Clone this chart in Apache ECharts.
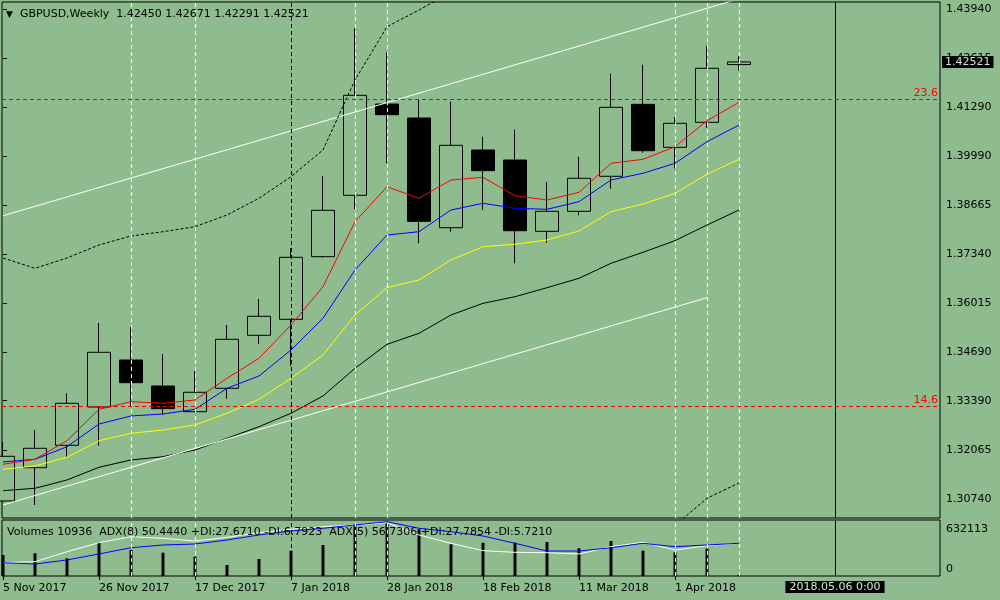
<!DOCTYPE html>
<html><head><meta charset="utf-8">
<script src="https://cdn.jsdelivr.net/npm/echarts@6/dist/echarts.min.js"></script>
<style>html,body{margin:0;padding:0;background:#8fbc8f}#c{width:1000px;height:600px}</style>
</head><body><div id="c"></div>
<script>
// ---- data ----
const symbolName = 'GBPUSD,Weekly';
const weeks = ['5 Nov 2017','12 Nov 2017','19 Nov 2017','26 Nov 2017','3 Dec 2017','10 Dec 2017','17 Dec 2017','24 Dec 2017','31 Dec 2017','7 Jan 2018','14 Jan 2018','21 Jan 2018','28 Jan 2018','4 Feb 2018','11 Feb 2018','18 Feb 2018','25 Feb 2018','4 Mar 2018','11 Mar 2018','18 Mar 2018','25 Mar 2018','1 Apr 2018','8 Apr 2018','15 Apr 2018','22 Apr 2018','29 Apr 2018','6 May 2018'];
const dateTickIdx = [0,3,6,9,12,15,18,21];
const cursorIdx = 26;
const cursorLabel = '2018.05.06 0:00';

const open  = [1.30687,1.31584,1.32188,1.33220,1.34487,1.33786,1.33094,1.33724,1.35153,1.35584,1.37272,1.38927,1.41387,1.41010,1.38053,1.40148,1.39878,1.37956,1.38495,1.39439,1.41379,1.40220,1.40894,1.42450];
const high  = [1.32277,1.32600,1.33590,1.35484,1.35377,1.34649,1.34191,1.35431,1.36131,1.37498,1.39447,1.43428,1.42781,1.41514,1.41449,1.40506,1.40695,1.39285,1.39967,1.42204,1.42447,1.41037,1.42959,1.42671];
const low   = [1.30650,1.30579,1.31881,1.32177,1.33228,1.33013,1.33080,1.33444,1.34918,1.34330,1.37250,1.38549,1.39789,1.37633,1.37945,1.38530,1.37094,1.37649,1.38387,1.39104,1.40075,1.39654,1.40749,1.42291];
const close = [1.31891,1.32107,1.33320,1.34695,1.33875,1.33175,1.33617,1.35045,1.35665,1.37255,1.38522,1.41622,1.41099,1.38226,1.40274,1.39590,1.37972,1.38495,1.39385,1.41298,1.40129,1.40867,1.42350,1.42521];

const maRed    = [1.31676,1.31811,1.32312,1.33158,1.33363,1.33320,1.33409,1.33994,1.34533,1.35431,1.36463,1.38215,1.39158,1.38846,1.39339,1.39412,1.38916,1.38800,1.39007,1.39789,1.39897,1.40236,1.40937,1.41433];
const maBlue   = [1.31738,1.31811,1.32150,1.32762,1.32978,1.33032,1.33158,1.33724,1.34056,1.34757,1.35611,1.36913,1.37856,1.37945,1.38530,1.38711,1.38576,1.38549,1.38754,1.39339,1.39520,1.39789,1.40371,1.40821];
const maYellow = [1.31541,1.31630,1.31865,1.32312,1.32512,1.32600,1.32735,1.33051,1.33428,1.33994,1.34622,1.35700,1.36436,1.36644,1.37183,1.37541,1.37606,1.37722,1.37964,1.38485,1.38692,1.38980,1.39493,1.39897];
const maBlack  = [1.30964,1.31029,1.31253,1.31595,1.31792,1.31881,1.32061,1.32377,1.32689,1.33051,1.33517,1.34264,1.34910,1.35207,1.35700,1.36015,1.36193,1.36436,1.36689,1.37094,1.37390,1.37703,1.38126,1.38530];

const channelUpper = [[0,1.38374],[23,1.44222]];
const channelLower = [[0,1.30579],[22,1.36167]];
const bandUpper = [[0,1.37237],[1,1.36959],[2,1.37237],[3,1.37587],[4,1.37830],[5,1.37945],[6,1.38080],[7,1.38396],[8,1.38846],[9,1.39428],[10,1.40148],[11,1.42034],[12,1.43471],[13,1.43921],[14,1.44400]];
const bandLower = [[21,1.30030],[22,1.30760],[23,1.31172]];

const fibLevels = [1.41509, 1.33234];
const fibLabels = ['23.6', '14.6'];
const whiteVLines = [4,6,11,12,21,22,23];
const blackDashVLines = [9];

const priceTicks = [1.30740,1.32065,1.33390,1.34690,1.36015,1.37340,1.38665,1.39990,1.41290,1.42615,1.43940];

const volumes = [248000,268000,209000,398000,307000,275000,228000,130000,201000,299000,366000,611000,632113,552000,375000,393000,393000,402000,327000,414000,299000,280000,323000,10936];
const volTicks = [0, 632113];
const adx8  = [23.8,25.5,43.4,59.5,70.2,67.3,62.5,69.1,77.3,83.4,88.0,91.1,95.2,73.2,58.4,45.2,42.3,41.6,39.3,52.3,60.2,46.4,54.1,58.4];
const adx5  = [23.8,21.4,28.6,39.3,50.5,55.4,57.1,64.3,73.2,80.4,85.2,91.1,97.0,85.2,79.1,71.4,58.4,44.6,44.6,50.5,58.4,52.3,55.4,58.4];
const adxInfo = ['ADX(8) 50.4440 +DI:27.6710 -DI:6.7923', 'ADX(5) 56.7306 +DI:27.7854 -DI:5.7210'];

// ---- chart ----
const BG = '#8fbc8f';
const FONT = 'DejaVu Sans';
const last = close.length - 1;
const xy = arr => arr.map((v, i) => [i, v]);
const candleData = open.map((o, i) => [i, o, close[i], low[i], high[i]]);
const xMin = -0.03125, xMax = 29.28125;

function vlines(list, color, type) {
  return list.map(v => ({ xAxis: v, lineStyle: { color: color, type: type, width: 1 } }));
}

const chart = echarts.init(document.getElementById('c'), null, { renderer: 'canvas' });
chart.setOption({
  backgroundColor: BG,
  animation: false,
  textStyle: { fontFamily: FONT },
  title: [
    {
      text: '{tri|▼}  ' + symbolName + '  ' + [open[last], high[last], low[last], close[last]].map(v => v.toFixed(5)).join(' '),
      left: 6, top: 9, padding: 0,
      textStyle: { fontSize: 11, fontWeight: 'normal', color: '#000', fontFamily: FONT,
        rich: { tri: { fontSize: 9, color: '#000', fontFamily: FONT } } }
    },
    {
      text: 'Volumes ' + volumes[last] + '  ' + adxInfo.join('  '),
      left: 7, top: 527, padding: 0,
      textStyle: { fontSize: 11, fontWeight: 'normal', color: '#000', fontFamily: FONT }
    }
  ],
  grid: [
    { left: 2, top: 2, width: 938, height: 516, show: true, borderColor: '#000', borderWidth: 1, backgroundColor: 'transparent', outerBoundsMode: 'none', containLabel: false },
    { left: 2, top: 520, width: 938, height: 56, show: true, borderColor: '#000', borderWidth: 1, backgroundColor: 'transparent', outerBoundsMode: 'none', containLabel: false }
  ],
  xAxis: [
    { type: 'value', gridIndex: 0, min: xMin, max: xMax, show: false },
    { type: 'value', gridIndex: 1, min: xMin, max: xMax,
      axisLine: { show: false }, splitLine: { show: false },
      axisTick: { show: true, customValues: dateTickIdx, length: 4, lineStyle: { color: '#000', width: 1 } },
      axisLabel: { customValues: dateTickIdx, formatter: v => weeks[v], align: 'left', margin: 7, color: '#000', fontSize: 11, fontFamily: FONT, hideOverlap: false }
    }
  ],
  yAxis: [
    { type: 'value', gridIndex: 0, position: 'right', min: 1.30228, max: 1.44137, scale: true,
      axisLine: { show: false }, splitLine: { show: false },
      axisTick: { show: true, customValues: priceTicks, length: 4, lineStyle: { color: '#000' } },
      axisLabel: { customValues: priceTicks, formatter: v => v.toFixed(5), margin: 6, color: '#000', fontSize: 11, fontFamily: FONT, hideOverlap: false }
    },
    { type: 'value', gridIndex: 1, position: 'right', min: 0, max: 661700,
      axisLine: { show: false }, splitLine: { show: false },
      axisTick: { show: false },
      axisLabel: { customValues: volTicks, margin: 6, color: '#000', fontSize: 11, fontFamily: FONT, hideOverlap: false,
        formatter: v => (v === 0 ? '{b|' + v + '}' : '{t|' + v + '}'),
        rich: { t: { padding: [13.6, 0, 0, 0], fontSize: 11, color: '#000', fontFamily: FONT },
                b: { padding: [0, 0, 14.6, 0], fontSize: 11, color: '#000', fontFamily: FONT } } }
    },
    { type: 'value', gridIndex: 1, min: 0, max: 100, show: false }
  ],
  series: [
    { type: 'line', xAxisIndex: 0, yAxisIndex: 0, data: [], z: 1, silent: true,
      markLine: { symbol: 'none', silent: true, animation: false, precision: 6, label: { show: false },
        data: vlines(whiteVLines, '#ffffff', [4, 3]).concat(vlines(blackDashVLines, '#000', [4, 3]), vlines([cursorIdx], '#000', 'solid')) } },
    { type: 'candlestick', xAxisIndex: 0, yAxisIndex: 0, data: candleData, encode: { x: 0, y: [1, 2, 3, 4] },
      barWidth: 23, z: 2, silent: true,
      itemStyle: { color: BG, color0: '#000', borderColor: '#000', borderColor0: '#000', borderWidth: 1 } },
    { type: 'line', data: xy(maBlack), showSymbol: false, symbol: 'none', z: 3, lineStyle: { color: '#000', width: 1 }, silent: true },
    { type: 'line', data: xy(maYellow), showSymbol: false, symbol: 'none', z: 3, lineStyle: { color: '#ffff00', width: 1 }, silent: true },
    { type: 'line', data: xy(maBlue), showSymbol: false, symbol: 'none', z: 3, lineStyle: { color: '#0000ff', width: 1 }, silent: true },
    { type: 'line', data: xy(maRed), showSymbol: false, symbol: 'none', z: 3, lineStyle: { color: '#ff0000', width: 1 }, silent: true },
    { type: 'line', data: channelUpper, showSymbol: false, symbol: 'none', z: 3, lineStyle: { color: '#ffffff', width: 1 }, silent: true },
    { type: 'line', data: channelLower, showSymbol: false, symbol: 'none', z: 3, lineStyle: { color: '#ffffff', width: 1 }, silent: true },
    { type: 'line', data: bandUpper, showSymbol: false, symbol: 'none', z: 3, lineStyle: { color: '#000', width: 1, type: [3, 2] }, silent: true },
    { type: 'line', data: bandLower, showSymbol: false, symbol: 'none', z: 3, lineStyle: { color: '#000', width: 1, type: [3, 2] }, silent: true },
    { type: 'line', xAxisIndex: 0, yAxisIndex: 0, data: [], z: 4, silent: true,
      markLine: { symbol: 'none', silent: true, animation: false, precision: 6,
        data: fibLevels.map((v, i) => ({ yAxis: v, lineStyle: { color: '#ff0000', type: [4, 3], width: 1 },
            label: { show: true, position: 'insideEndTop', distance: [2, 1], formatter: fibLabels[i], color: '#ff0000', fontSize: 11, fontFamily: FONT } }))
          .concat([{ yAxis: close[last], lineStyle: { color: 'rgba(0,0,0,0)', width: 0 },
            label: { show: true, position: 'end', distance: 2, formatter: close[last].toFixed(5), color: '#cfe0cf', backgroundColor: '#000', padding: [1, 3, 0, 3], fontSize: 11, fontFamily: FONT } }]) } },
    // lower panel
    { type: 'line', xAxisIndex: 1, yAxisIndex: 1, data: [], z: 1, silent: true,
      markLine: { symbol: 'none', silent: true, animation: false, precision: 6, label: { show: false },
        data: vlines(whiteVLines, '#ffffff', [4, 3]).concat(vlines(blackDashVLines, '#000', [4, 3]),
          [{ xAxis: cursorIdx, lineStyle: { color: '#000', type: 'solid', width: 1 },
             label: { show: true, position: 'start', distance: 5, formatter: cursorLabel, color: '#d8e8d8', backgroundColor: '#000', padding: [1, 4, 0, 4], fontSize: 11, fontFamily: FONT } }]) } },
    { type: 'bar', xAxisIndex: 1, yAxisIndex: 1, data: xy(volumes), barWidth: 3, z: 2, silent: true, itemStyle: { color: '#000' } },
    { type: 'line', xAxisIndex: 1, yAxisIndex: 2, data: xy(adx8), showSymbol: false, symbol: 'none', z: 3, lineStyle: { color: '#ffffff', width: 1 }, silent: true },
    { type: 'line', xAxisIndex: 1, yAxisIndex: 2, data: xy(adx5), showSymbol: false, symbol: 'none', z: 3, lineStyle: { color: '#0000ff', width: 1 }, silent: true }
  ]
});
</script>
</body></html>
